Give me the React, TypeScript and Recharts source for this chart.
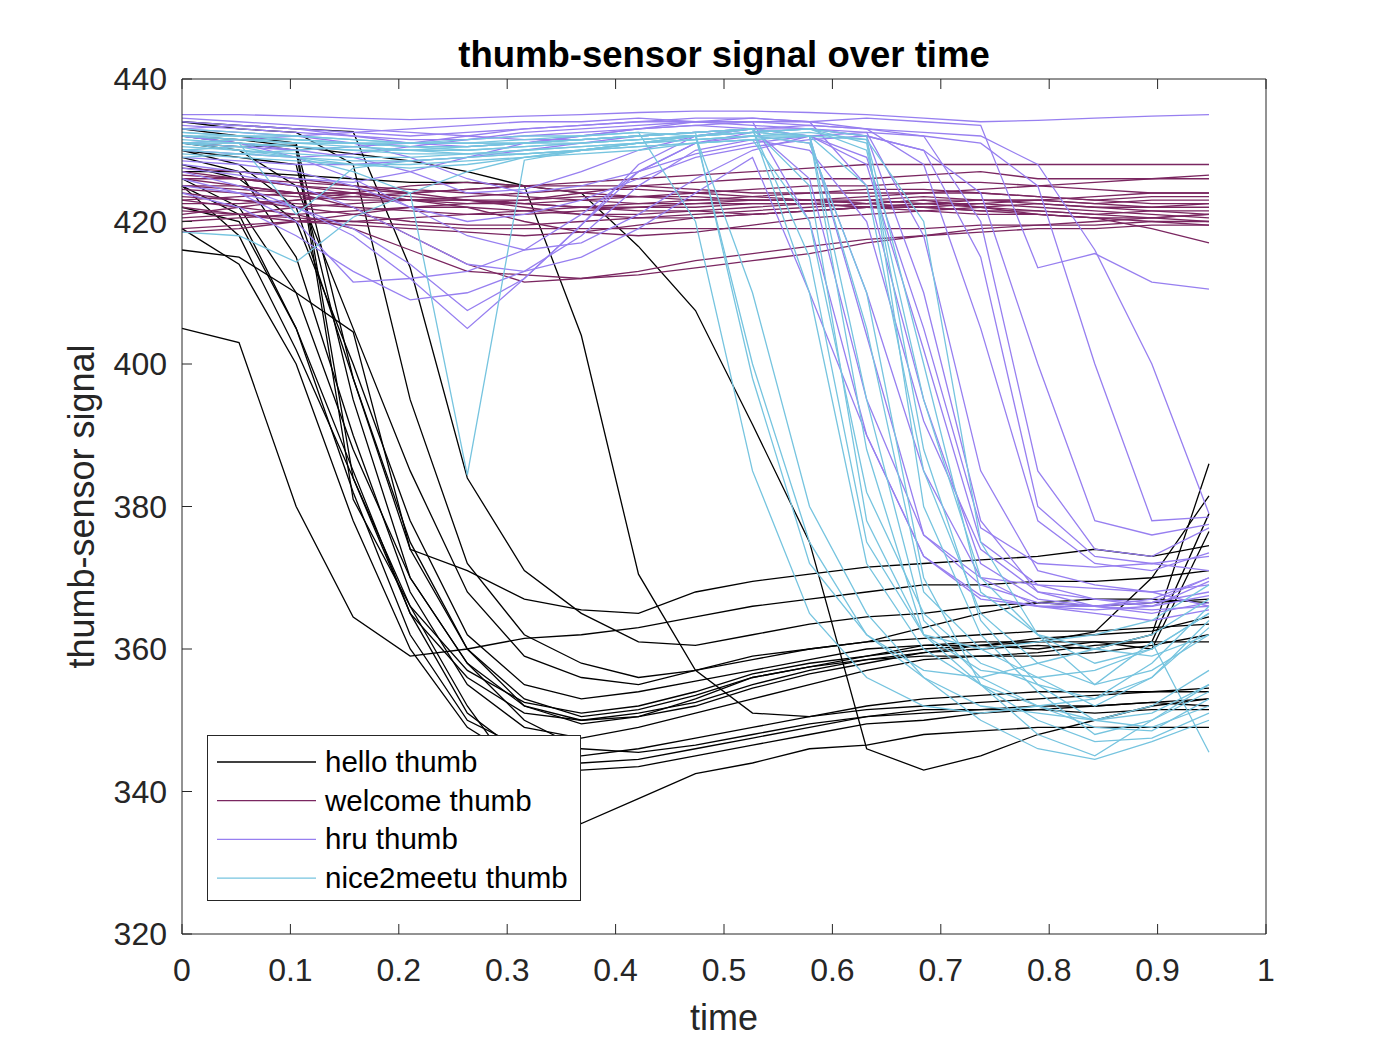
import React from "react";
import { LineChart, Line, XAxis, YAxis, Legend, Label } from "recharts";

// sample times (19 frames)
const TIME = [0, 0.0526, 0.1053, 0.1579, 0.2105, 0.2632, 0.3158, 0.3684, 0.4211, 0.4737,
  0.5263, 0.5789, 0.6316, 0.6842, 0.7368, 0.7895, 0.8421, 0.8947, 0.9474];

const X_TICKS = [0, 0.1, 0.2, 0.3, 0.4, 0.5, 0.6, 0.7, 0.8, 0.9, 1];
const Y_TICKS = [320, 340, 360, 380, 400, 420, 440];

const HELLO = [
  [405, 403, 380, 364.5, 359, 360, 361.5, 362, 363, 364.5, 366, 367, 368, 369, 369, 369.5, 369.5, 370, 371],
  [416, 415, 410, 404.5, 374, 371, 367, 365.5, 365, 368, 369.5, 370.5, 371.5, 372, 372.5, 373, 374, 373, 374.5],
  [425, 418, 402, 384, 366, 352, 341, 335.5, 339, 342.5, 344, 346, 346.5, 348, 348.5, 349, 349, 349, 349],
  [427, 427, 426.5, 426, 425.5, 425.5, 425, 424, 416.5, 407.5, 391.5, 375, 346, 343, 345, 348, 350, 352, 353],
  [432, 431.5, 430.5, 429.5, 428.5, 427, 425, 404, 370.5, 357, 351, 350.5, 352, 353, 353.5, 354, 354, 354, 354.5],
  [434, 433.5, 433, 432.6, 413.5, 384, 371, 365, 361, 360.5, 362, 363.5, 364.5, 365, 366, 366.5, 366, 366.5, 367],
  [431, 430.5, 430.7, 384, 365, 356, 351, 350, 351, 352.5, 355, 357, 358.5, 359.5, 360, 360.5, 360, 362, 386],
  [432, 431, 430, 381, 366, 357, 352.5, 351, 352, 354, 356.5, 358, 359, 360, 360.5, 361, 362.4, 370, 381.5],
  [430, 429, 428, 395, 370, 358, 352, 350, 350.5, 353, 356, 357.5, 358.5, 359, 359, 359.5, 360.5, 361, 379],
  [428, 426, 420, 400, 378, 362, 355, 353, 354, 355.5, 357, 358.5, 360, 360.5, 361, 361, 361, 360, 376.5],
  [433, 432, 431, 398, 374, 360, 353, 350.5, 351.5, 353.5, 356, 357.5, 359, 360.5, 360.5, 361.5, 362, 362.5, 364.5],
  [431, 430, 425, 405, 385, 368, 359, 356, 355, 357, 359, 360, 361, 361.5, 362, 362.5, 362.5, 363, 363.5],
  [429, 427, 415, 390, 368, 355, 349, 347.5, 349, 351, 353, 355, 357, 358.5, 359, 359, 359.5, 360.5, 362],
  [426, 422, 410, 388, 370, 358, 350, 346, 345.5, 346.5, 348, 349.5, 350.5, 351, 351.5, 352, 352, 352.5, 352],
  [422, 420, 405, 385, 365, 351, 345, 344, 344.5, 346, 347.5, 349, 350.5, 351.5, 351.5, 351.5, 351, 351.5, 351.5],
  [430, 428, 422, 398, 375, 360, 352, 349.5, 350.5, 352, 354.5, 356.5, 358, 359.5, 360.5, 360, 361, 361, 361],
  [434, 433, 432.5, 428, 395, 372, 362, 358, 356, 357, 358.5, 360, 361, 363, 365, 366.5, 367, 367, 366.5],
  [425, 421, 405, 382, 362, 350, 346, 345, 346, 347.5, 349, 350.5, 351.5, 352, 352.5, 353, 353.5, 354, 354],
  [419, 414, 400, 378, 360, 349, 344, 343, 343.5, 345, 346.5, 348, 349.5, 350, 351, 351.5, 352, 352.5, 353],
];

const WELCOME = [
  [426, 425, 424, 422, 418, 414, 411.5, 412, 413, 414.5, 415.5, 416.5, 417.5, 418, 419, 419.5, 420, 420.5, 421],
  [423, 422, 421, 419, 416, 413, 412.5, 412, 412.5, 413.5, 414.5, 415.5, 417, 418, 418.5, 419, 419, 419.5, 419.5],
  [419, 419.5, 420, 420, 419.5, 419, 419, 419, 419, 419, 419, 419, 419, 419, 419.5, 419.5, 419.5, 420, 420],
  [427, 426, 425, 424.5, 424, 424.5, 425, 425.5, 426, 426.5, 427, 427.5, 428, 428, 428, 428, 428, 428, 428],
  [425, 425, 424, 424, 423, 423, 423, 424, 425, 425.5, 426, 426, 426, 426.5, 427, 426, 426, 426, 426.5],
  [421, 422, 423, 424, 425, 425.5, 425, 424, 423.5, 423, 423, 423, 422.5, 423, 422, 421, 420.5, 419, 417],
  [424, 423, 422.5, 422, 421.5, 421, 421, 421.5, 422, 422.5, 423, 423, 423, 422.5, 422.5, 422, 421.5, 421, 420.5],
  [422, 421, 420, 419.5, 419, 418.5, 418, 418.5, 419.5, 420.5, 421, 421.5, 422, 422.5, 423, 423, 422.5, 422, 422],
  [426, 426, 425.5, 425, 424.5, 424, 423.5, 423, 422.5, 422.5, 422.5, 422.5, 422, 422, 421.5, 421.5, 421, 420.5, 420],
  [420, 420.5, 421, 421.5, 422, 422.5, 423, 423.5, 423.5, 423.5, 423, 423, 423.5, 424, 424, 423.5, 423, 423.5, 423.5],
  [427.5, 427, 426, 425, 424, 423, 422.5, 422, 421.5, 421.5, 421, 421.5, 422, 422.5, 422, 421.5, 421, 421.5, 421.5],
  [423, 423.5, 424, 424, 423.5, 423, 422, 421, 420.5, 420.5, 421, 421.5, 422, 422, 422.5, 423, 423.5, 424, 424],
  [418.5, 419, 420, 421, 422, 422, 421.5, 421, 421, 421.5, 422, 422.5, 423, 423.5, 423, 422.5, 422, 422, 422.5],
  [425, 424.5, 424, 423.5, 423, 422, 420, 418.5, 418, 418.5, 419.5, 420.5, 421, 421.5, 422, 422.5, 422, 421.5, 421],
  [421.5, 421, 420.5, 420, 420.5, 421, 421.5, 422, 422.5, 423, 423.5, 424, 424.5, 424.5, 424, 423.5, 423, 422.5, 422.5],
  [424.5, 424, 423.5, 423, 423, 423.5, 424, 424.5, 424.5, 424, 423.5, 423, 422.5, 422, 421.5, 421, 420.5, 420, 419.5],
  [426.5, 426, 425, 424, 423, 422.5, 422.5, 423, 423.5, 424, 424.5, 425, 425, 425.5, 425.5, 425, 424.5, 424, 424],
  [420.5, 421, 422, 422.5, 423, 423, 422.5, 422, 422, 422, 422.5, 422.5, 422, 421.5, 421, 421, 420.5, 420.5, 421],
  [423.5, 423, 422, 421, 420, 419.5, 419.5, 420, 420.5, 421, 421.5, 422, 422.5, 423, 423, 423, 422.5, 423, 423],
  [422.5, 422.5, 423, 423.5, 424, 424.5, 425, 425, 425, 424.5, 424, 424, 424, 424, 424.5, 425, 425.5, 426, 426],
];

const HRU = [
  [435, 435, 434.8, 434.5, 434.3, 434.5, 434.8, 435, 435.3, 435.5, 435.5, 435.3, 435, 434.5, 434, 434.2, 434.5, 434.8, 435],
  [433, 433.5, 433, 432, 431, 430.5, 431, 432, 433, 433.5, 434, 434, 434.5, 434, 433.5, 413.5, 415.5, 411.5, 410.5],
  [432, 431, 430, 430.5, 431, 432, 433, 433.5, 434, 434, 434, 433.5, 433, 432.5, 432, 428, 416, 400, 379],
  [431, 431.5, 432, 432.5, 433, 433.5, 434, 434, 434.5, 434, 433.5, 433, 432, 430, 424, 400, 378, 376, 377.5],
  [434, 433.5, 433, 432.5, 432, 432.5, 433, 433.5, 434, 434.5, 434.5, 434, 433, 428, 405, 378, 372, 371, 373.5],
  [428, 427, 426, 425.5, 427, 429, 431, 432, 433, 434, 434.5, 434, 425, 395, 372, 367, 366, 366.5, 368],
  [430, 429.5, 429, 429.5, 430.5, 431.5, 432.5, 433, 433.5, 434, 434, 420, 390, 373, 367.5, 366, 365.5, 366, 369.5],
  [425, 424, 422, 419, 414, 407.5, 412, 419.5, 427, 431, 432.5, 433, 432, 410, 378, 368, 366, 365, 366.5],
  [427, 425, 422, 418, 412, 405, 412, 419.5, 428, 432, 433, 432, 428, 402, 375, 369, 367, 366.5, 370],
  [426, 424, 420, 411.5, 412, 413, 416, 421, 427, 431, 432, 431, 410, 385, 370, 366, 365, 364, 365.5],
  [424, 422, 418, 413, 409, 410, 413, 418, 425, 430, 431.5, 430, 420, 392, 374, 368, 367, 366, 367.5],
  [433, 432.5, 432, 431, 429, 426, 424, 425, 427, 429.5, 431, 432, 429, 405, 377, 372, 371.5, 372, 371],
  [432, 431, 429, 426, 422, 420, 421, 423, 426, 429, 430.5, 431.5, 432, 430, 415, 380, 373, 372, 373],
  [429, 428.5, 428, 428, 428.5, 429, 430, 431, 432, 432.5, 433, 432, 404, 376, 369, 366.5, 366, 367, 370],
  [433.5, 433, 432.5, 432, 431.5, 431.5, 432, 432.5, 433, 433.5, 433, 426, 395, 376, 370, 369, 368.5, 368, 369],
  [431, 430.5, 430, 429, 427, 424, 424.5, 427, 430, 432, 433, 433.5, 433, 432, 420, 385, 374, 373, 377],
  [434.5, 434, 433.5, 433, 432.5, 432, 431.5, 431.5, 432, 432.5, 433, 433, 432.5, 432, 431, 425, 400, 378, 378.5],
  [428.5, 428, 427, 425, 422, 418, 416, 417, 421, 426, 430, 432, 432.5, 418, 385, 371, 369, 368, 366],
  [427.5, 426.5, 425, 422, 418, 414, 413, 415, 419, 424, 429, 410, 390, 373, 367, 366, 366, 365.5, 366],
];

const NICE = [
  [431, 430.5, 429, 427, 424, 384.4, 428.6, 430, 431, 431.5, 432, 432, 431.5, 400, 368, 362, 360, 359, 362],
  [432, 432, 431.5, 431, 431, 431, 431.5, 432, 432.5, 432, 400, 375, 362, 356, 352, 351, 350, 352, 357],
  [431, 431.5, 431.5, 431, 430.5, 430.5, 431, 431.5, 432, 432.5, 433, 410, 372, 360, 355, 352, 350, 351, 355],
  [432.5, 432, 431.5, 431, 430.5, 430.5, 431, 431, 431.5, 432, 432.5, 432, 395, 364, 356, 352, 349, 348.5, 353],
  [430, 430.5, 431, 431, 430.5, 430, 430.5, 431, 431.5, 432, 432.5, 433, 432, 380, 362, 354, 348, 350, 354],
  [429, 429.5, 430, 430.5, 430, 429.5, 429.5, 430, 430.5, 431, 431.5, 420, 382, 365, 358, 355, 353, 356, 364],
  [418.5, 418, 414.3, 420.6, 424, 427, 429, 430, 430.5, 431, 431.5, 432, 425, 385, 365, 358, 355, 357, 362],
  [431.5, 431, 421, 427.5, 428.5, 429, 429.5, 430, 431, 432, 432.5, 433, 430, 395, 370, 362, 358, 360, 365],
  [432, 431.5, 431, 430.5, 430, 430, 430.5, 431, 431.5, 432, 410, 380, 365, 356, 350, 346, 344.5, 347, 350],
  [431, 431, 430.5, 430, 429.5, 429.5, 430, 430.5, 431, 431.5, 432, 432.5, 431.5, 420, 375, 362, 355, 361, 345.5],
  [430.5, 430, 429.5, 429, 429, 429.5, 430, 430.5, 431, 431.5, 432, 431, 410, 370, 355, 348, 345, 350, 355],
  [432, 431.5, 431, 431, 431, 431.5, 432, 432, 432.5, 420, 385, 365, 356, 352, 351, 352, 353, 358, 366],
  [431, 430, 429, 428.5, 428.5, 429, 429.5, 430, 431, 432, 433, 425, 378, 362, 357, 356, 357, 360, 365],
  [429.5, 429, 428.5, 428, 428, 428.5, 429, 429.5, 430, 431, 431.5, 432, 405, 368, 360, 356, 352, 356, 363],
  [432.5, 432, 432, 431.5, 431, 431, 431, 431.5, 432, 432.5, 398, 372, 362, 357, 356, 358, 360, 362, 367],
  [430, 429.5, 429, 428, 427.5, 428, 429, 430, 431, 432, 432.5, 433, 431, 388, 364, 355, 350, 349, 352],
  [431, 431, 430.5, 430, 430, 430.5, 431, 431.5, 432, 432.5, 433, 432, 388, 362, 360, 361, 362, 364, 369],
  [433, 432.5, 432, 431.5, 431, 431, 431, 431.5, 432, 432.5, 433, 415, 375, 362, 355, 350, 347, 347.5, 351],
];

const CLASSES = [
  { key: "hello", name: "hello thumb", color: "#000000", series: HELLO },
  { key: "welcome", name: "welcome thumb", color: "#7A2660", series: WELCOME },
  { key: "hru", name: "hru thumb", color: "#977FF0", series: HRU },
  { key: "nice", name: "nice2meetu thumb", color: "#76C4DF", series: NICE },
];

const rows = TIME.map((t, i) => {
  const row: Record<string, number> = { t };
  CLASSES.forEach((c) => c.series.forEach((s, k) => (row[`${c.key}${k}`] = s[i])));
  return row;
});

const AXIS = "#262626";
const FONT = "'Liberation Sans', Arial, Helvetica, sans-serif";

const BottomTick = (props: any) => {
  const { x, y, payload } = props;
  return (
    <g>
      <line x1={x} x2={x} y1={y} y2={y - 10} stroke={AXIS} />
      <text x={x} y={y + 47} textAnchor="middle" fontSize={32} fill={AXIS} fontFamily={FONT}>
        {String(payload.value)}
      </text>
    </g>
  );
};

const TopTick = (props: any) => {
  const { x, y } = props;
  return <line x1={x} x2={x} y1={y} y2={y + 10} stroke={AXIS} />;
};

const LeftTick = (props: any) => {
  const { x, y, payload } = props;
  return (
    <g>
      <line x1={x} x2={x + 10} y1={y} y2={y} stroke={AXIS} />
      <text x={x - 15} y={y + 11} textAnchor="end" fontSize={32} fill={AXIS} fontFamily={FONT}>
        {payload.value}
      </text>
    </g>
  );
};

const RightTick = (props: any) => {
  const { x, y } = props;
  return <line x1={x} x2={x - 10} y1={y} y2={y} stroke={AXIS} />;
};

const LegendBox = () => (
  <svg width={375} height={167} style={{ display: "block" }}>
    <rect x={0.5} y={0.5} width={373} height={165} fill="#fff" stroke={AXIS} />
    {CLASSES.map((c, i) => {
      const cy = 27 + i * 38.7;
      return (
        <g key={c.key}>
          <line x1={10} x2={109} y1={cy} y2={cy} stroke={c.color} strokeWidth={1.3} />
          <text x={118} y={cy + 10} fontSize={29.5} fill="#000" fontFamily={FONT}>
            {c.name}
          </text>
        </g>
      );
    })}
  </svg>
);

export default function App() {
  return (
    <div style={{ position: "absolute", left: 0, top: 0, width: 1400, height: 1050, background: "#fff", fontFamily: FONT }}>
      <LineChart width={1400} height={1050} data={rows} margin={{ top: 78, right: 133, bottom: 0, left: 0 }}>
        <XAxis
          xAxisId="b"
          dataKey="t"
          type="number"
          domain={[0, 1]}
          ticks={X_TICKS}
          interval={0}
          height={116}
          tickSize={0}
          tickMargin={0}
          tickLine={false}
          tick={<BottomTick />}
          axisLine={{ stroke: AXIS }}
        >
          <Label
            content={({ viewBox }: any) => (
              <text x={viewBox.x + viewBox.width / 2} y={viewBox.y + 96} textAnchor="middle" fontSize={36} fill={AXIS} fontFamily={FONT}>
                time
              </text>
            )}
          />
        </XAxis>
        <XAxis
          xAxisId="t"
          orientation="top"
          dataKey="t"
          type="number"
          domain={[0, 1]}
          ticks={X_TICKS}
          interval={0}
          height={1}
          tickSize={0}
          tickMargin={0}
          tickLine={false}
          tick={<TopTick />}
          axisLine={{ stroke: AXIS }}
        >
          <Label
            content={({ viewBox }: any) => (
              <text x={viewBox.x + viewBox.width / 2} y={viewBox.y + viewBox.height - 12} textAnchor="middle" fontSize={36.5} fontWeight="bold" fill="#000" fontFamily={FONT}>
                thumb-sensor signal over time
              </text>
            )}
          />
        </XAxis>
        <YAxis
          yAxisId="l"
          type="number"
          domain={[320, 440]}
          ticks={Y_TICKS}
          interval={0}
          width={182}
          tickSize={0}
          tickMargin={0}
          tickLine={false}
          tick={<LeftTick />}
          axisLine={{ stroke: AXIS }}
        >
          <Label
            content={({ viewBox }: any) => {
              const cx = viewBox.x + 94;
              const cy = viewBox.y + viewBox.height / 2;
              return (
                <text x={cx} y={cy} transform={`rotate(-90 ${cx} ${cy})`} textAnchor="middle" fontSize={36} fill={AXIS} fontFamily={FONT}>
                  thumb-sensor signal
                </text>
              );
            }}
          />
        </YAxis>
        <YAxis
          yAxisId="r"
          orientation="right"
          type="number"
          domain={[320, 440]}
          ticks={Y_TICKS}
          interval={0}
          width={1}
          tickSize={0}
          tickMargin={0}
          tickLine={false}
          tick={<RightTick />}
          axisLine={{ stroke: AXIS }}
        />
        {CLASSES.map((c) =>
          c.series.map((_, k) => (
            <Line
              key={`${c.key}${k}`}
              xAxisId="b"
              yAxisId="l"
              dataKey={`${c.key}${k}`}
              stroke={c.color}
              strokeWidth={1.3}
              dot={false}
              activeDot={false}
              legendType="none"
              isAnimationActive={false}
            />
          ))
        )}
        <Legend
          layout="vertical"
          align="center"
          verticalAlign="middle"
          content={<LegendBox />}
          wrapperStyle={{ position: "absolute", left: 207, top: 735, width: 375, height: 167 }}
        />
      </LineChart>
    </div>
  );
}
